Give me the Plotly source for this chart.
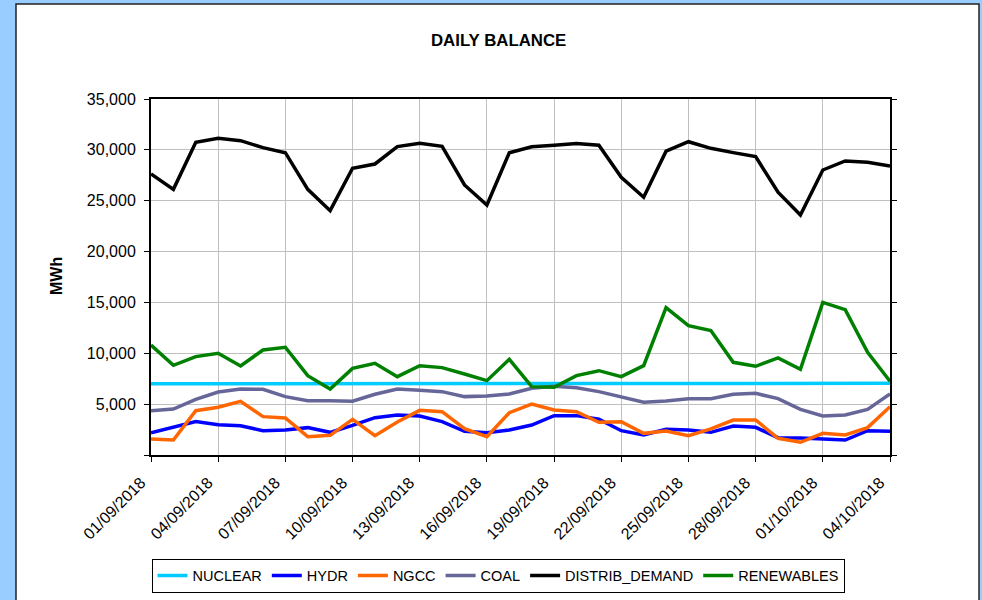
import plotly.graph_objects as go

dates = [
    "2018-09-01", "2018-09-02", "2018-09-03", "2018-09-04", "2018-09-05", "2018-09-06",
    "2018-09-07", "2018-09-08", "2018-09-09", "2018-09-10", "2018-09-11", "2018-09-12",
    "2018-09-13", "2018-09-14", "2018-09-15", "2018-09-16", "2018-09-17", "2018-09-18",
    "2018-09-19", "2018-09-20", "2018-09-21", "2018-09-22", "2018-09-23", "2018-09-24",
    "2018-09-25", "2018-09-26", "2018-09-27", "2018-09-28", "2018-09-29", "2018-09-30",
    "2018-10-01", "2018-10-02", "2018-10-03", "2018-10-04",
]

nuclear = [7000, 7000, 7000, 7000, 7000, 7000, 7000, 7000, 7000, 7000, 7000, 7000,
           7000, 7000, 7000, 7000, 7000, 7000, 7000, 7000, 7000, 7000, 7000, 7000,
           7000, 7000, 7040, 7020, 7000, 7030, 7050, 7050, 7050, 7050]
hydr = [2190, 2720, 3280, 2980, 2880, 2390, 2460, 2690, 2230, 2920, 3670, 3930,
        3830, 3280, 2330, 2190, 2460, 2950, 3870, 3870, 3510, 2390, 1970, 2520,
        2460, 2230, 2850, 2720, 1700, 1670, 1540, 1470, 2390, 2330]
ngcc = [1570, 1470, 4360, 4690, 5280, 3770, 3640, 1800, 1930, 3510, 1900, 3240,
        4390, 4260, 2590, 1800, 4160, 5010, 4420, 4260, 3210, 3280, 2130, 2360,
        1900, 2560, 3440, 3440, 1640, 1250, 2130, 1970, 2690, 4750]
coal = [4360, 4520, 5470, 6190, 6490, 6460, 5740, 5340, 5340, 5280, 5970, 6490,
        6360, 6230, 5740, 5800, 6000, 6560, 6750, 6620, 6230, 5670, 5180, 5310,
        5540, 5540, 5970, 6060, 5540, 4490, 3830, 3930, 4490, 6000]
distrib_demand = [27630, 26120, 30740, 31140, 30900, 30220, 29720, 26120, 24020, 28190, 28610, 30320,
                  30640, 30350, 26550, 24580, 29720, 30300, 30460, 30620, 30450, 27300, 25340, 29870,
                  30800, 30150, 29730, 29340, 25830, 23600, 28020, 28910, 28780, 28420]
renewables = [10810, 8820, 9670, 10000, 8750, 10320, 10590, 7800, 6490, 8520, 9010, 7700,
              8780, 8590, 7960, 7310, 9410, 6720, 6650, 7800, 8290, 7700, 8780, 14490,
              12720, 12230, 9110, 8720, 9540, 8420, 15010, 14290, 10100, 7250]

series_names = ["NUCLEAR", "HYDR", "NGCC", "COAL", "DISTRIB_DEMAND", "RENEWABLES"]
series_values = [nuclear, hydr, ngcc, coal, distrib_demand, renewables]
series_colors = ["#00CCFF", "#0000FF", "#FF6600", "#666699", "#000000", "#008000"]

y_tickvals = [0, 5000, 10000, 15000, 20000, 25000, 30000, 35000]
y_ticktext = ["", "5,000", "10,000", "15,000", "20,000", "25,000", "30,000", "35,000"]

FONT = "Liberation Sans, Arial, sans-serif"

fig = go.Figure()
for name, vals, col in zip(series_names, series_values, series_colors):
    fig.add_trace(go.Scatter(x=dates, y=vals, mode="lines", name=name,
                             line=dict(color=col, width=3.5)))

# plot area pixels: x 151..890, y 99..455
L, R, T, B = 151, 890, 99, 455
W, H = R - L, B - T
def px(x):
    return (x - L) / W
def py(y):
    return (B - y) / H

fig.update_layout(
    width=982, height=600,
    margin=dict(l=L, r=982 - R, t=T, b=600 - B, autoexpand=False),
    paper_bgcolor="#99CCFF",
    plot_bgcolor="white",
    font=dict(family=FONT, size=16, color="black"),
    showlegend=True,
    legend=dict(orientation="h", xref="container", yref="container",
                x=498 / 982, xanchor="center", y=1 - 575.5 / 600, yanchor="middle",
                bgcolor="white", bordercolor="black", borderwidth=1,
                font=dict(size=14.5, family=FONT), traceorder="normal"),
    shapes=[dict(type="rect", xref="paper", yref="paper", x0=px(16), x1=px(979),
                 y0=py(4), y1=py(620), fillcolor="white",
                 line=dict(color="#222222", width=1.5), layer="below")],
    annotations=[
        dict(text="<b>DAILY BALANCE</b>", xref="paper", yref="paper", x=px(498), y=py(40),
             xanchor="center", yanchor="middle", showarrow=False,
             font=dict(size=16.8, family=FONT)),
        dict(text="<b>MWh</b>", xref="paper", yref="paper", x=px(56), y=py(276),
             xanchor="center", yanchor="middle", showarrow=False, textangle=-90,
             font=dict(size=16, family=FONT)),
    ],
)

fig.update_xaxes(
    type="date", range=["2018-09-01", "2018-10-04"],
    tick0="2018-09-01", dtick=3 * 86400000, tickformat="%d/%m/%Y", tickangle=-45,
    showgrid=True, gridcolor="#C0C0C0", gridwidth=1,
    showline=True, linecolor="black", linewidth=2, mirror=True,
    ticks="outside", ticklen=5, tickcolor="black", tickwidth=1,
    tickfont=dict(size=16, family=FONT), zeroline=False,
    ticklabelshift=-10, ticklabelstandoff=5,
)
fig.update_yaxes(
    range=[0, 35000], tickvals=y_tickvals, ticktext=y_ticktext,
    showgrid=True, gridcolor="#C0C0C0", gridwidth=1,
    showline=True, linecolor="black", linewidth=2, mirror="ticks",
    ticks="outside", ticklen=5, tickcolor="black", tickwidth=1,
    tickfont=dict(size=16, family=FONT), zeroline=False, ticklabelstandoff=5,
)

fig.write_html(
    "out.html",
    config={"displayModeBar": False},
    post_script="document.body.style.margin='0';document.body.style.background='#99CCFF';",
)
